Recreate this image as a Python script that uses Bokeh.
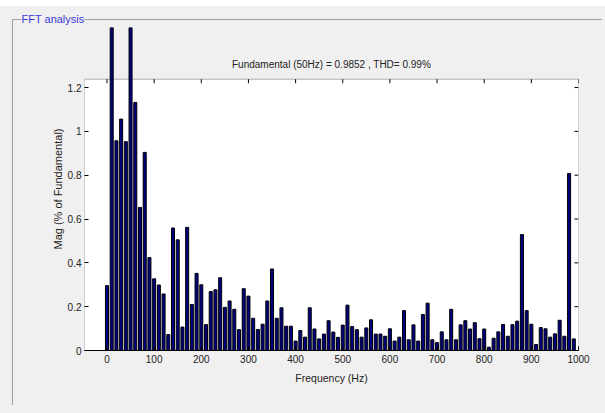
from bokeh.plotting import figure
from bokeh.models import (Range1d, BoxAnnotation, Label, Title, FixedTicker,
                          CustomJSTickFormatter)
from bokeh.embed import file_html
from bokeh.resources import INLINE

# ---- data ----
freqs = list(range(0, 1000, 10))
mags = [
    0.296, 1.6, 0.957, 1.056, 0.953, 100.0, 1.132, 0.653, 0.904, 0.424,   # 0-90
    0.327, 0.299, 0.258, 0.073, 0.559, 0.505, 0.107, 0.562, 0.210, 0.352, # 100-190
    0.300, 0.118, 0.269, 0.277, 0.332, 0.197, 0.226, 0.188, 0.095, 0.282, # 200-290
    0.248, 0.147, 0.096, 0.120, 0.226, 0.372, 0.147, 0.195, 0.111, 0.111, # 300-390
    0.043, 0.091, 0.061, 0.195, 0.098, 0.053, 0.075, 0.136, 0.084, 0.060, # 400-490
    0.116, 0.207, 0.109, 0.095, 0.061, 0.103, 0.140, 0.075, 0.075, 0.065, # 500-590
    0.099, 0.043, 0.061, 0.182, 0.049, 0.117, 0.043, 0.164, 0.216, 0.049, # 600-690
    0.036, 0.085, 0.049, 0.188, 0.049, 0.117, 0.136, 0.098, 0.127, 0.054, # 700-790
    0.098, 0.015, 0.056, 0.085, 0.119, 0.065, 0.118, 0.134, 0.529, 0.182, # 800-890
    0.120, 0.027, 0.105, 0.099, 0.061, 0.076, 0.138, 0.065, 0.808, 0.053, # 900-990
]
assert len(mags) == len(freqs)

x_ticks = [0, 100, 200, 300, 400, 500, 600, 700, 800, 900, 1000]
y_ticks = [0, 0.2, 0.4, 0.6, 0.8, 1.0, 1.2]

panel_title = "FFT analysis"
chart_title = "Fundamental (50Hz) = 0.9852 , THD= 0.99%"
x_label = "Frequency (Hz)"
y_label = "Mag (% of Fundamental)"

# ---- layout constants ----
W, H = 605, 413
BL, BR, BT, BB = 84, 27, 27, 63
Y_BOX_TOP = 1.238
Y_TOP = 1.474
X_MIN, X_MAX = -47.7, 1000
GRAY = "#f0f0f0"
FONT = "Liberation Sans"
TXT = "#222222"

# panel (group box) decoration painted behind the transparent canvas border
panel_bg = ", ".join([
    "linear-gradient(#ffffff,#ffffff) 0px 0px / 100% 6px no-repeat",
    "linear-gradient(#a0a0a0,#a0a0a0) 12px 19px / 590px 1px no-repeat",
    "linear-gradient(#a0a0a0,#a0a0a0) 12px 19px / 1px 386px no-repeat",
    GRAY,
])

p = figure(width=W, height=H, output_backend="svg", toolbar_location=None,
           x_range=Range1d(X_MIN, X_MAX), y_range=Range1d(0, Y_TOP),
           min_border_left=BL, min_border_right=BR, min_border_top=BT,
           min_border_bottom=BB)
p.background_fill_color = GRAY
p.border_fill_color = None
p.outline_line_color = None
p.grid.visible = False
p.styles = {"background": panel_bg}

# white axes box
p.add_layout(BoxAnnotation(bottom=0, top=Y_BOX_TOP, fill_color="white", fill_alpha=1,
                           line_color="black", line_width=1, level="underlay"))

# bars
p.vbar(x=freqs, top=mags, width=6.4, fill_color="#000080", line_color="black",
       line_width=1)

# box ticks on the top and right edges
px_per_y = (350 - 27) / Y_TOP
px_per_x = (578 - 84) / (X_MAX - X_MIN)
ty = 4 / px_per_y
tx = 4 / px_per_x
p.segment(x0=x_ticks, x1=x_ticks, y0=[Y_BOX_TOP] * len(x_ticks),
          y1=[Y_BOX_TOP - ty] * len(x_ticks), line_color="black", line_width=1)
p.segment(x0=[X_MAX] * len(y_ticks), x1=[X_MAX - tx] * len(y_ticks),
          y0=y_ticks, y1=y_ticks, line_color="black", line_width=1)

# axes
xa = p.xaxis[0]
xa.ticker = FixedTicker(ticks=x_ticks)
xa.major_tick_in = 4
xa.major_tick_out = 0
xa.minor_tick_line_color = None
xa.axis_line_color = "black"
xa.major_label_standoff = 4
xa.major_label_text_font = FONT
xa.major_label_text_font_size = "10px"
xa.major_label_text_color = TXT
xa.axis_label = x_label
xa.axis_label_text_font = FONT
xa.axis_label_text_font_size = "10.5px"
xa.axis_label_text_font_style = "normal"
xa.axis_label_text_color = TXT
xa.axis_label_standoff = 6

ya = p.yaxis[0]
ya.ticker = FixedTicker(ticks=y_ticks)
ya.formatter = CustomJSTickFormatter(code="return String(Math.round(tick*10)/10);")
ya.major_tick_in = 4
ya.major_tick_out = 0
ya.minor_tick_line_color = None
ya.axis_line_color = None
ya.major_label_standoff = 3
ya.major_label_text_font = FONT
ya.major_label_text_font_size = "10px"
ya.major_label_text_color = TXT
ya.axis_label = y_label
ya.axis_label_text_font = FONT
ya.axis_label_text_font_size = "11px"
ya.axis_label_text_font_style = "normal"
ya.axis_label_text_color = TXT
ya.axis_label_standoff = 1

# group box title
p.add_layout(Title(text=panel_title, align="left", offset=21 - BL, standoff=6,
                   text_font=FONT, text_font_size="11px", text_font_style="normal",
                   text_color="#3b3bd6", background_fill_color=GRAY,
                   background_fill_alpha=1), "above")

# chart title
p.add_layout(Label(x=(W - BL - BR) / 2, y=350 - 64, x_units="screen", y_units="screen",
                   text=chart_title, text_font=FONT, text_font_size="10px",
                   text_color=TXT, text_baseline="middle", text_align="center"))

open("out.html", "w").write(file_html(p, INLINE))
